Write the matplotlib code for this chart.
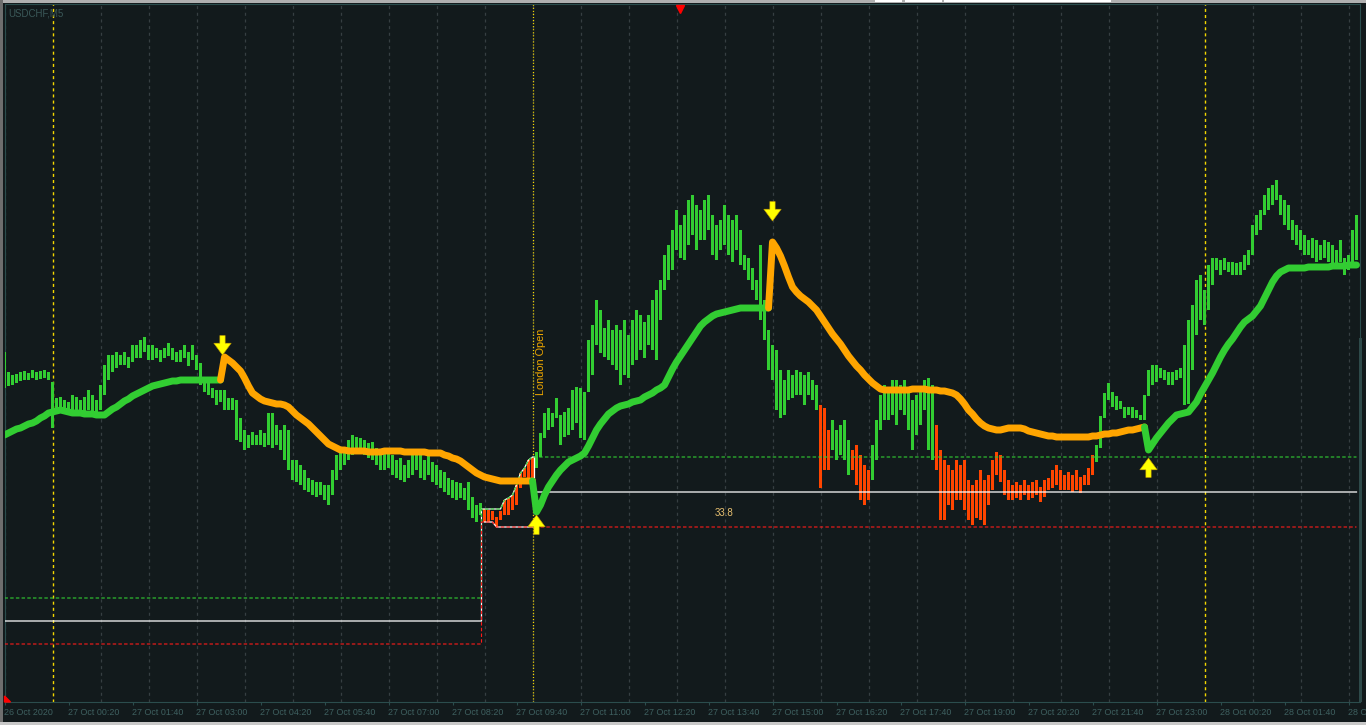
import matplotlib
matplotlib.use('Agg')
import matplotlib.pyplot as plt
import numpy as np
from matplotlib.patches import Rectangle, Polygon
import matplotlib.transforms as mtransforms

plt.rcParams['lines.scale_dashes'] = False
plt.rcParams['font.family'] = ['Liberation Sans', 'DejaVu Sans']

# ---------------- data (USDCHF M5, price offsets in points) ----------------
high = [648,628,625,626,628,629,627,630,628,629,630,628,
        618,602,603,600,598,605,603,600,603,610,605,600,
        615,635,645,645,648,645,648,643,655,655,660,663,
        655,655,652,650,652,657,652,648,650,655,648,655,
        645,637,620,618,612,610,610,610,602,602,600,582,
        570,565,568,565,570,567,587,587,575,570,575,570,
        540,540,535,530,522,520,518,518,515,515,530,545,
        550,550,560,565,563,562,560,557,558,552,550,548,
        552,545,540,542,535,540,545,550,545,540,545,538,
        535,530,528,522,520,518,517,512,518,503,495,497,
        491,490,489,483,489,500,502,505,515,527,532,540,
        543,548,567,587,592,587,602,585,588,592,610,613,
        612,608,660,675,700,690,672,680,670,675,670,680,
        665,680,690,685,678,685,700,710,720,745,755,770,
        790,775,785,800,805,795,790,800,805,785,775,780,
        795,785,780,785,770,745,742,732,720,755,700,670,
        655,650,630,620,630,625,630,628,625,628,620,615,
        595,592,570,580,570,575,580,560,550,555,545,535,
        530,555,580,605,615,610,620,620,615,620,610,600,
        605,608,620,622,615,575,550,540,535,530,540,535,
        540,520,515,520,530,520,525,540,548,545,530,520,
        515,518,515,520,515,518,520,513,520,522,530,535,
        530,525,528,525,530,523,525,532,545,555,584,607,
        617,608,604,599,593,593,593,590,585,605,630,635,
        635,632,630,628,628,630,632,655,680,695,720,725,
        710,735,742,742,740,742,738,738,737,738,745,750,
        775,785,790,805,812,815,820,805,800,795,780,775,
        770,765,760,762,760,755,760,758,755,750,760,742,
        745,770,785]

low = [612,614,615,617,619,620,620,622,620,621,622,620,
       572,588,590,587,586,588,590,587,587,590,588,585,
       590,605,620,628,632,635,635,632,638,642,642,648,
       640,640,642,638,642,644,640,638,638,642,634,640,
       630,615,608,605,602,595,598,590,590,590,560,558,
       550,552,555,555,555,553,555,552,555,550,540,530,
       520,518,515,510,508,505,503,505,500,495,505,520,
       530,535,540,545,550,548,545,542,540,535,530,530,
       532,525,522,520,518,522,525,530,522,520,525,518,
       515,512,508,505,502,500,502,500,490,482,478,485,
       478,478,480,473,480,485,485,490,495,512,523,517,
       517,532,543,562,570,573,582,555,563,565,570,577,
       562,560,608,625,655,647,643,640,635,630,615,625,
       622,635,640,650,642,655,650,640,680,710,720,730,
       750,742,740,755,765,750,760,760,770,745,740,750,
       755,745,738,750,735,730,720,710,700,680,660,630,
       620,590,582,585,600,602,605,605,595,605,600,590,
       512,530,530,550,540,545,540,525,530,515,500,495,
       500,520,540,570,580,580,585,575,590,585,570,550,
       565,575,590,550,540,530,480,480,495,490,500,500,
       490,480,475,482,480,475,495,510,525,518,505,500,
       500,502,500,505,500,502,505,498,503,510,512,515,
       510,510,510,508,510,507,515,515,525,538,552,582,
       600,593,590,591,582,585,582,582,580,580,604,615,
       618,622,620,615,615,620,622,595,596,630,665,680,
       675,690,715,730,725,730,728,725,725,725,730,735,
       745,765,770,785,790,795,800,785,775,770,760,755,
       750,745,745,742,738,740,742,738,735,732,738,725,
       730,735,740]

# bars drawn in the "bearish" colour (first, last index inclusive)
red_runs = [(120, 132), (204, 206), (212, 216), (233, 272)]

# trend moving average
ma_vals = [565,567,569,571,572,574,576,577,579,582,584,587,
           588,589,590,589,588,587,587,587,586,586,586,585,
           585,585,588,591,593,596,599,601,604,606,608,610,
           612,614,615,616,617,618,619,619,620,620,620,620,
           620,620,620,620,620,620,620,643,640,637,633,629,
           622,614,607,604,601,599,598,597,596,596,595,593,
           589,585,582,579,576,572,568,564,560,556,554,552,
           550,550,549,549,549,549,549,548,548,548,548,549,
           549,549,549,549,548,548,548,548,548,548,547,547,
           547,547,545,544,542,541,539,536,533,530,527,525,
           523,522,521,520,519,519,519,519,519,519,519,519,
           519,488,495,505,513,519,525,530,534,538,540,542,
           544,547,554,562,570,576,581,586,589,592,594,595,
           596,598,599,600,603,605,607,610,612,615,623,631,
           638,644,650,656,662,668,674,678,681,684,686,687,
           688,689,690,691,692,692,692,692,692,692,692,692,
           758,752,744,734,723,713,708,704,701,698,694,690,
           684,678,672,666,661,656,650,644,639,634,630,625,
           621,617,614,611,610,610,610,610,610,610,610,611,
           611,611,611,610,610,610,609,609,608,607,605,601,
           596,590,586,581,577,574,572,571,570,570,571,572,
           572,572,572,571,569,568,567,566,565,564,564,563,
           563,563,563,563,563,563,563,563,564,564,565,566,
           566,567,567,568,569,570,570,571,572,573,550,556,
           562,567,572,577,581,585,586,587,588,593,598,606,
           613,620,627,635,643,650,656,661,667,673,678,681,
           684,689,694,702,710,718,724,728,730,732,732,732,
           732,732,733,733,733,733,733,733,734,734,734,734,
           735,735,735]
ma_down_runs = [(55, 132), (192, 285)]

# signal arrows: bar index, price of arrow tip, direction
sig_x = [54.5, 133, 192, 286]
sig_price = [645, 485, 779, 542]
sig_dir = ['down', 'up', 'down', 'up']

# session range lines
prev_range = [402, 379, 356]        # previous high / mid / low
range_first, range_last = 120, 132  # pre-London range bars
prev_end = 119.25
range_label = "33.8"

tick_labels = ['26 Oct 2020', '27 Oct 00:20', '27 Oct 01:40', '27 Oct 03:00',
               '27 Oct 04:20', '27 Oct 05:40', '27 Oct 07:00', '27 Oct 08:20',
               '27 Oct 09:40', '27 Oct 11:00', '27 Oct 12:20', '27 Oct 13:40',
               '27 Oct 15:00', '27 Oct 16:20', '27 Oct 17:40', '27 Oct 19:00',
               '27 Oct 20:20', '27 Oct 21:40', '27 Oct 23:00', '28 Oct 00:20',
               '28 Oct 01:40', '28 Oct 03:00']
bars_per_label = 16
bars_per_hour = 12
day_starts = [12, 300]
london_open = 132

# ---------------- style ----------------
BG = '#121a1c'
FRAME = '#2b4d4d'
LABEL = '#3e6060'
GREEN = '#32cd32'
RED = '#ff4500'
ORANGE = '#ffa500'
GRID = '#363f42'
YEL = '#f5d800'

W, H = 1366, 725
fig = plt.figure(figsize=(W / 100, H / 100), dpi=100)
fig.patch.set_facecolor(BG)
L, R, T, B = 4.5, 1359.5, 4, 702
ax = fig.add_axes([L / W, 1 - B / H, (R - L) / W, (B - T) / H])
ax.set_facecolor(BG)

hi = np.array(high, float)
lo = np.array(low, float)
n = len(hi)
x = np.arange(n)
ax.set_xlim(0, n - 0.25)
ax.set_ylim(298, 996)

# grid
for k in range(0, n, bars_per_hour):
    if k in day_starts:
        ax.axvline(k, color=YEL, lw=1.0, dashes=(2.2, 2.2), zorder=1)
    else:
        ax.axvline(k, color=GRID, lw=0.9, dashes=(2.2, 2.6), zorder=1)
ax.axvline(london_open, color=YEL, lw=0.9, dashes=(0.8, 1.4), zorder=1)

# bars
is_red = np.zeros(n, bool)
for a, b in red_runs:
    is_red[a:b + 1] = True
colors = np.where(is_red, RED, GREEN)
ax.bar(x, np.maximum(hi - lo, 1.5), bottom=lo, width=0.75, color=colors,
       linewidth=0, antialiased=False, zorder=3)

# range lines
rh = np.maximum.accumulate(hi[range_first:range_last + 1])
rl = np.minimum.accumulate(lo[range_first:range_last + 1])
rmid = (rh[-1] + rl[-1]) / 2
bx = list(x[range_first:range_last + 1])
gx = [0, prev_end, prev_end] + bx + [n - 1]
gy = [prev_range[0], prev_range[0], rh[0]] + list(rh) + [rh[-1]]
lx = [0, prev_end, prev_end] + bx + [n - 1]
ly = [prev_range[2], prev_range[2], rl[0]] + list(rl) + [rl[-1]]
wx = [0, prev_end, prev_end] + bx + [range_last + 0.5, range_last + 0.5, n - 1]
wy = [prev_range[1], prev_range[1], rh[0]] + list(rh) + [rh[-1], rmid, rmid]
ax.plot(bx, rl, color='white', lw=0.9, zorder=4)
ax.plot(wx, wy, color='white', lw=0.9, zorder=4)
ax.plot(gx, gy, color=GREEN, lw=0.8, dashes=(2.5, 1.6), zorder=4.5)
ax.plot(lx, ly, color='#ff1a1a', lw=0.8, dashes=(2.5, 1.6), zorder=4.5)

# moving average, coloured by trend
ma = np.array(ma_vals, float)
trend = np.array(['up'] * n, dtype=object)
for a, b in ma_down_runs:
    trend[a:b + 1] = 'down'
runs = []
s = 0
for i in range(1, n + 1):
    if i == n or trend[i] != trend[s]:
        runs.append((s, i - 1, trend[s]))
        s = i
for a, b, t in runs:
    a0 = max(a - 1, 0)
    ax.plot(x[a0:b + 1], ma[a0:b + 1], color=GREEN if t == 'up' else ORANGE,
            lw=5.0, solid_capstyle='round', solid_joinstyle='round', zorder=6)

# signal arrows
for xi, v, d in zip(sig_x, sig_price, sig_dir):
    off = 14 if d == 'down' else -14
    ax.annotate('', xy=(xi, v), xytext=(0, off), textcoords='offset points',
                arrowprops=dict(arrowstyle='simple,head_length=0.85,head_width=1.25,tail_width=0.38',
                                mutation_scale=10, fc='#ffff00', ec='#c8a000', lw=0.4,
                                shrinkA=0, shrinkB=0), zorder=8)

# texts
ax.text(134, 605, 'London Open', rotation=90, ha='center', va='bottom',
        color='#f0a800', fontsize=7.8, zorder=7)
ax.text(180, 487, range_label, ha='center', va='center', color='#e8c070',
        fontsize=7, zorder=7)
ax.text(0.003, 0.993, 'USDCHF,M5', transform=ax.transAxes, ha='left', va='top',
        color='#3a5858', fontsize=7, zorder=7)

# axes frame and ticks
for sp in ax.spines.values():
    sp.set_color(FRAME)
    sp.set_linewidth(0.8)
ax.set_yticks([])
tpos = list(range(0, n, bars_per_label))[:len(tick_labels)]
ax.set_xticks(tpos)
ax.set_xticklabels(tick_labels[:len(tpos)], fontsize=6.4, color=LABEL)
for lbl in ax.get_xticklabels():
    lbl.set_ha('left')
ax.tick_params(axis='x', length=2.5, width=0.8, color=FRAME, pad=1.6)

# chart shift marker and corner marker
blend = mtransforms.blended_transform_factory(ax.transData, ax.transAxes)
ax.plot([168.75], [0.993], marker='v', ms=6, color='red', mec='red',
        transform=blend, clip_on=False, zorder=10)
ax.add_patch(Polygon([(0, 0), (6 / (R - L), 0), (0, 6 / (B - T))], closed=True,
                     transform=ax.transAxes, color='red', zorder=10, clip_on=False))

# window chrome
fig.add_artist(Rectangle((0, 1 - 3 / H), 1, 3 / H, transform=fig.transFigure,
                         fc='#b0b0b0', ec='none'))
for x0, x1 in [(875, 902), (905, 942), (944, 1111)]:
    fig.add_artist(Rectangle((x0 / W, 1 - 2 / H), (x1 - x0) / W, 2 / H,
                             transform=fig.transFigure, fc='white', ec='none'))
fig.add_artist(Rectangle((0, 0), 3 / W, 1, transform=fig.transFigure,
                         fc='#6e6e6e', ec='none'))
fig.add_artist(Rectangle((0, 0), 1, 3 / H, transform=fig.transFigure,
                         fc='#c8c8c8', ec='none'))
fig.add_artist(Rectangle((1359 / W, 1 - 702 / H), 3 / W, (702 - 338) / H,
                         transform=fig.transFigure, fc='#2e4a4a', ec='none'))

fig.savefig('out.png', dpi=100, facecolor=BG)
